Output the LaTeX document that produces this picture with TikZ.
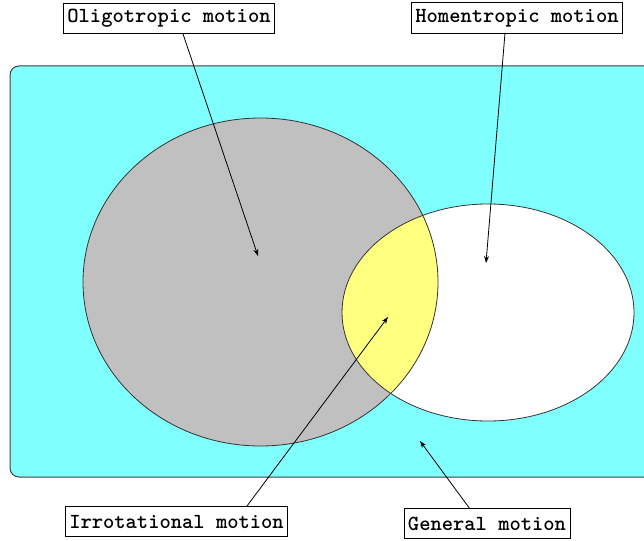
\documentclass[tikz,border=0pt]{standalone}
\usepackage{fontspec}
\usetikzlibrary{arrows.meta}
\definecolor{bgcyan}{HTML}{80FFFF}
\definecolor{setgray}{HTML}{C0C0C0}
\definecolor{setyellow}{HTML}{FFFF80}
\tikzset{
  lbl/.style={draw=black, line width=0.8pt, fill=white, font=\ttfamily\bfseries\fontsize{21.5}{22}\selectfont, inner xsep=4pt, inner ysep=3pt, minimum height=30.5pt},
  pointer/.style={draw=black, line width=0.8pt, -{Stealth[length=7pt,width=5pt]}},
  outline/.style={draw=black!80, line width=0.8pt}
}
\begin{document}
\begin{tikzpicture}[x=1pt,y=-1pt]
\useasboundingbox (0,0) rectangle (644,540);
\clip (0,0) rectangle (644,540);
% background region
\draw[fill=bgcyan, draw=black!75, line width=1pt, rounded corners=9pt] (10,66) rectangle (670,477);
% sets
\fill[setgray] (260.5,282) ellipse [x radius=177.5, y radius=164];
\fill[white] (488,312.5) ellipse [x radius=146, y radius=108.5];
\begin{scope}
  \clip (260.5,282) ellipse [x radius=177.5, y radius=164];
  \fill[setyellow] (488,312.5) ellipse [x radius=146, y radius=108.5];
\end{scope}
\draw[outline] (260.5,282) ellipse [x radius=177.5, y radius=164];
\draw[outline] (488,312.5) ellipse [x radius=146, y radius=108.5];
% labels
\node[lbl] (oli) at (169,18.5) {Oligotropic motion};
\node[lbl] (hom) at (517,18) {Homentropic motion};
\node[lbl] (irr) at (176.5,521.5) {Irrotational motion};
\node[lbl] (gen) at (487,523.5) {General motion};
% pointer targets
\coordinate (tOli) at (258,256);
\coordinate (tHom) at (486,263);
\coordinate (tIrr) at (388,317);
\coordinate (tGen) at (420,441);
\coordinate (sOli) at (183,34);
\coordinate (sHom) at (505,33);
\coordinate (sIrr) at (247,506);
\coordinate (sGen) at (470,509);
\draw[pointer] (sOli) -- (tOli);
\draw[pointer] (sHom) -- (tHom);
\draw[pointer] (sIrr) -- (tIrr);
\draw[pointer] (sGen) -- (tGen);
\end{tikzpicture}
\end{document}
